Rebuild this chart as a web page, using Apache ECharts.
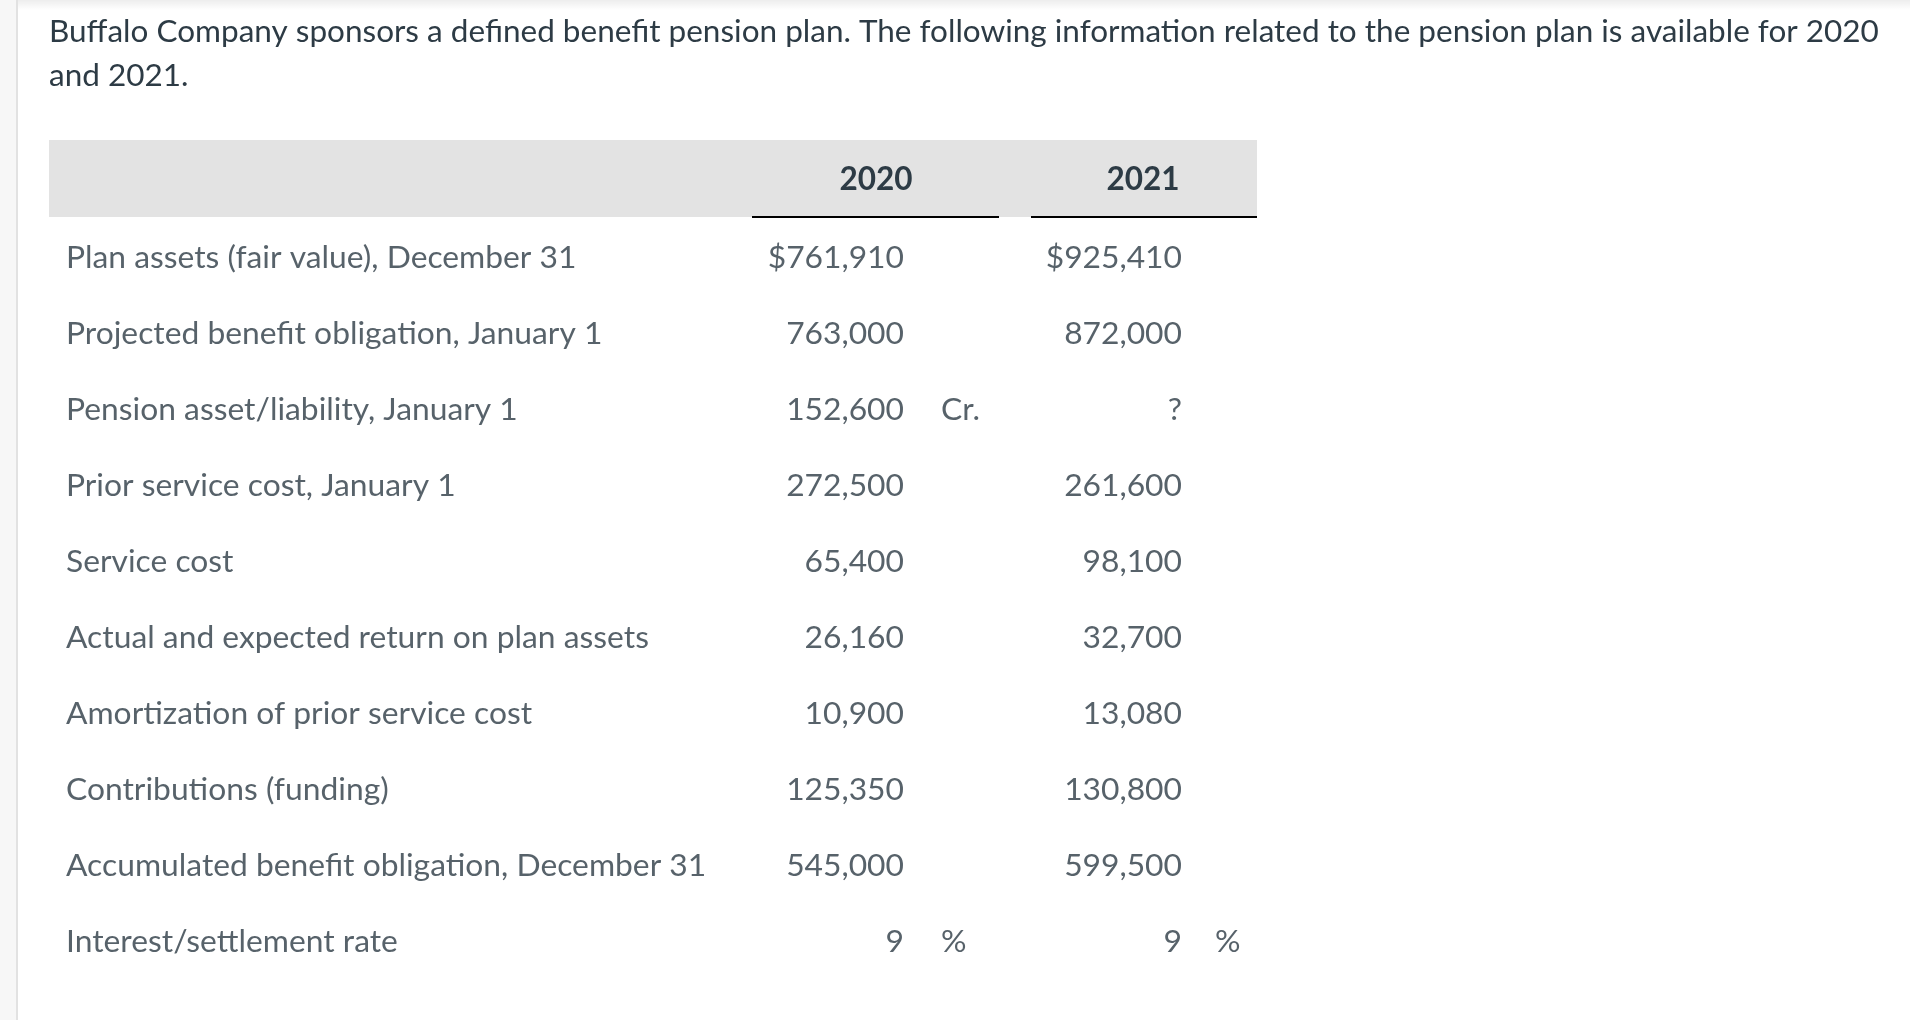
<!DOCTYPE html>
<html><head><meta charset="utf-8">
<script src="https://cdn.jsdelivr.net/npm/echarts@6/dist/echarts.min.js"></script>
<style>html,body{margin:0;padding:0;background:#fff;overflow:hidden}#c{width:1910px;height:1020px}</style>
</head><body><div id="c"></div>
<script>
// ---- data ----
const introText = 'Buffalo Company sponsors a defined benefit pension plan. The following information related to the pension plan is available for 2020\nand 2021.';
const years = ['2020', '2021'];
const rowLabels = [
  'Plan assets (fair value), December 31',
  'Projected benefit obligation, January 1',
  'Pension asset/liability, January 1',
  'Prior service cost, January 1',
  'Service cost',
  'Actual and expected return on plan assets',
  'Amortization of prior service cost',
  'Contributions (funding)',
  'Accumulated benefit obligation, December 31',
  'Interest/settlement rate'
];
const values2020 = [761910, 763000, 152600, 272500, 65400, 26160, 10900, 125350, 545000, 9];
const values2021 = [925410, 872000, null, 261600, 98100, 32700, 13080, 130800, 599500, 9];
const prefixes = ['$', '', '', '', '', '', '', '', '', ''];
const suffix2020 = ['', '', 'Cr.', '', '', '', '', '', '', '%'];
const suffix2021 = ['', '', '', '', '', '', '', '', '', '%'];

// ---- layout / style ----
const FONT = 'Lato';
const TXT = '#2d3b45';
const FS = 31.5;
const FS_ROW = 31.8;
const COL = { label: 66, v2020: 904, s2020: 941, v2021: 1182, s2021: 1215 };

function fmt(v, i) {
  if (v == null) return '?';
  return prefixes[i] + v.toLocaleString('en-US');
}

function textSeries(name, xPos, texts, align, size) {
  return {
    type: 'scatter', name: name, symbolSize: 0, silent: true,
    data: rowLabels.map((r, i) => ({ value: [xPos, r], txt: texts[i] })),
    label: {
      show: true, position: align === 'left' ? 'right' : 'left', distance: 0,
      formatter: p => p.data.txt,
      fontFamily: FONT, fontSize: size, color: TXT, verticalAlign: 'middle'
    }
  };
}

const chart = echarts.init(document.getElementById('c'), null, { renderer: 'canvas' });
chart.setOption({
  animation: false,
  backgroundColor: '#ffffff',
  title: {
    text: introText, left: 49, top: 10, padding: 0,
    textStyle: { fontFamily: FONT, fontSize: FS, fontWeight: 'normal', color: TXT, lineHeight: 44 }
  },
  grid: { left: 0, right: 0, top: 220, bottom: 40 },
  xAxis: { type: 'value', min: 0, max: 1910, show: false },
  yAxis: { type: 'category', data: rowLabels, inverse: true, show: false },
  graphic: [
    { type: 'rect', shape: { x: 0, y: 0, width: 16, height: 1020 }, style: { fill: '#f7f7f7' }, z: -10 },
    { type: 'rect', shape: { x: 16, y: 0, width: 2, height: 1020 }, style: { fill: '#e2e2e2' }, z: -9 },
    { type: 'rect', shape: { x: 18, y: 0, width: 1892, height: 10 }, z: -9,
      style: { fill: new echarts.graphic.LinearGradient(0, 0, 0, 1, [
        { offset: 0, color: 'rgba(0,0,0,0.07)' }, { offset: 1, color: 'rgba(0,0,0,0)' }]) } },
    { type: 'rect', shape: { x: 49, y: 140, width: 1208, height: 77 }, style: { fill: '#e3e3e3' }, z: -5 },
    { type: 'rect', shape: { x: 752, y: 216, width: 247, height: 2 }, style: { fill: '#000' }, z: -4 },
    { type: 'rect', shape: { x: 1031, y: 216, width: 226, height: 2 }, style: { fill: '#000' }, z: -4 },
    { type: 'text', x: 876, y: 180, z: 5, style: { text: years[0], fontFamily: FONT, fontSize: FS, fontWeight: 'bold', fill: TXT, align: 'center', verticalAlign: 'middle' } },
    { type: 'text', x: 1143, y: 180, z: 5, style: { text: years[1], fontFamily: FONT, fontSize: FS, fontWeight: 'bold', fill: TXT, align: 'center', verticalAlign: 'middle' } }
  ],
  series: [
    textSeries('labels', COL.label, rowLabels, 'left', FS_ROW),
    textSeries(years[0], COL.v2020, values2020.map(fmt), 'right', FS_ROW),
    textSeries(years[0] + 's', COL.s2020, suffix2020, 'left', FS_ROW),
    textSeries(years[1], COL.v2021, values2021.map(fmt), 'right', FS_ROW),
    textSeries(years[1] + 's', COL.s2021, suffix2021, 'left', FS_ROW)
  ]
});
</script>
</body></html>
